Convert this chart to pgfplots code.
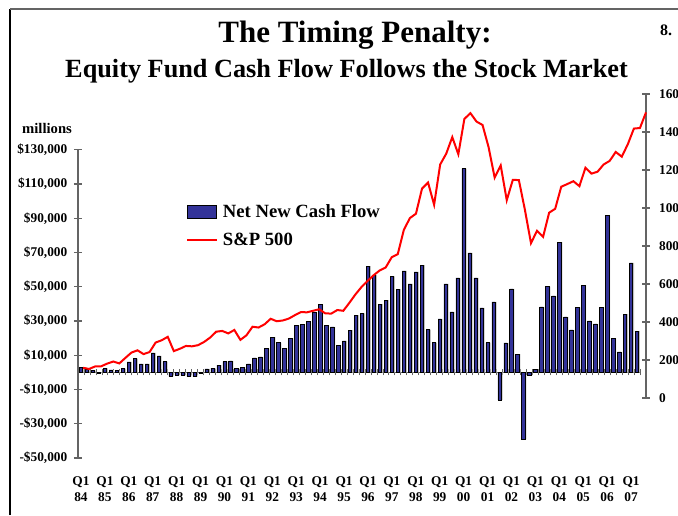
\documentclass[border=0pt]{standalone}
\usepackage{fontspec}
\setmainfont{Liberation Serif}
\usepackage{pgfplots}
\usepackage{pgfplotstable}
\pgfplotsset{compat=1.18}

\definecolor{barblue}{RGB}{51,51,153}
\definecolor{axisgray}{RGB}{100,100,100}

% net new cash flow to equity funds, millions of dollars, Q1 1984 = 0
\pgfplotstableread{
q flow
0 2700
1 1700
2 1000
3 -400
4 2300
5 1500
6 1000
7 2200
8 6100
9 8000
10 5000
11 5000
12 11400
13 9600
14 6300
15 -2300
16 -1700
17 -1700
18 -2300
19 -2500
20 -700
21 2000
22 2500
23 4200
24 6300
25 6700
26 2500
27 3000
28 5000
29 8500
30 9000
31 13800
32 20600
33 17300
34 14000
35 19800
36 27600
37 28100
38 29900
39 34900
40 39600
41 27600
42 26600
43 15900
44 18400
45 24600
46 33400
47 34400
48 62000
49 56800
50 39800
51 42200
52 56000
53 48600
54 59300
55 51700
56 58700
57 62600
58 25000
59 17400
60 31200
61 51700
62 35300
63 55200
64 119000
65 69800
66 55200
67 37700
68 17400
69 41200
70 -16000
71 17200
72 48800
73 10600
74 -39000
75 -1600
76 1900
77 38300
78 50000
79 44700
80 76000
81 32400
82 24800
83 37900
84 50900
85 30100
86 28300
87 38100
88 91800
89 19800
90 12000
91 34000
92 64000
93 24100
}\flowtable

% S&P 500 at quarter end
\pgfplotstableread{
q sp
0 159
1 153
2 166
3 167
4 181
5 192
6 182
7 211
8 239
9 251
10 231
11 242
12 292
13 304
14 322
15 247
16 259
17 274
18 272
19 278
20 295
21 318
22 349
23 353
24 340
25 358
26 306
27 330
28 375
29 371
30 388
31 417
32 404
33 408
34 418
35 436
36 452
37 451
38 459
39 467
40 446
41 444
42 463
43 459
44 501
45 545
46 584
47 616
48 646
49 671
50 687
51 741
52 757
53 885
54 947
55 970
56 1102
57 1134
58 1017
59 1229
60 1286
61 1373
62 1283
63 1469
64 1499
65 1455
66 1437
67 1320
68 1160
69 1224
70 1041
71 1148
72 1147
73 990
74 815
75 880
76 848
77 975
78 996
79 1112
80 1126
81 1141
82 1115
83 1212
84 1181
85 1191
86 1229
87 1248
88 1295
89 1270
90 1336
91 1418
92 1421
93 1503
}\sptable

\begin{document}
\begin{tikzpicture}
% slide frame
\draw[black, line width=1.2pt] (7.5pt,0pt) -- (7.5pt,379.5pt);
\draw[axisgray, line width=1.5pt] (7.5pt,379.5pt) -- (508.5pt,379.5pt);

\node[anchor=base, font=\bfseries\fontsize{23.25}{28}\selectfont] at (266.25pt,354pt) {The Timing Penalty:};
\node[anchor=base, font=\bfseries\fontsize{19.7}{24}\selectfont] at (259.9pt,327.75pt) {Equity Fund Cash Flow Follows the Stock Market};
\node[font=\bfseries\fontsize{12}{14}\selectfont] at (499.5pt,363.75pt) {8.};
\node[font=\bfseries\fontsize{11}{13}\selectfont] at (35.25pt,290.25pt) {millions};

\begin{axis}[
    at={(58.5pt,42.75pt)}, anchor=south west,
    scale only axis, width=421.5pt, height=231.2pt,
    xmin=-0.5, xmax=93.5, ymin=-50000, ymax=130000,
    axis x line*=middle, axis y line*=left,
    every inner x axis line/.append style={-},
    every outer y axis line/.append style={-},
    axis line style={axisgray, line width=0.8pt},
    tick align=center,
    scaled y ticks=false,
    xtick={0,4,...,92},
    xticklabels={{Q1\\84},{Q1\\85},{Q1\\86},{Q1\\87},{Q1\\88},{Q1\\89},{Q1\\90},{Q1\\91},
                 {Q1\\92},{Q1\\93},{Q1\\94},{Q1\\95},{Q1\\96},{Q1\\97},{Q1\\98},{Q1\\99},
                 {Q1\\00},{Q1\\01},{Q1\\02},{Q1\\03},{Q1\\04},{Q1\\05},{Q1\\06},{Q1\\07}},
    xticklabel style={align=center, yshift=-72pt, font=\bfseries\fontsize{10}{12}\selectfont},
    major x tick style={draw=none},
    minor xtick={-0.5,0.5,...,93.5},
    minor x tick style={axisgray, line width=0.6pt},
    minor tick length=4.5pt,
    ytick={-50000,-30000,...,130000},
    yticklabels={{-\$50,000},{-\$30,000},{-\$10,000},{\$10,000},{\$30,000},{\$50,000},{\$70,000},{\$90,000},{\$110,000},{\$130,000}},
    yticklabel style={xshift=-1.5pt, font=\bfseries\fontsize{10}{12}\selectfont},
    major y tick style={axisgray, line width=0.8pt},
    major tick length=6pt,
    legend cell align=left,
    legend style={at={(0.185,0.84)}, anchor=north west, draw=none, fill=none,
                  font=\bfseries\fontsize{14}{16}\selectfont, row sep=6pt},
]
\addlegendimage{legend image code/.code={\draw[fill=barblue, draw=black, line width=0.5pt] (0pt,-4.9pt) rectangle (21.75pt,4.9pt); \path[draw=none, fill=none] (0pt,0pt) -- (24.75pt,0pt);}}
\addlegendentry{Net New Cash Flow}
\addlegendimage{legend image code/.code={\draw[red, line width=1.5pt] (0pt,0pt) -- (22.5pt,0pt); \path[draw=none, fill=none] (0pt,0pt) -- (24.75pt,0pt);}}
\addlegendentry{S\&P 500}
\addplot[ybar, bar width=2.55pt, bar shift=1pt, fill=gray!50, draw=none, forget plot] table[x=q, y=flow] {\flowtable};
\addplot[ybar, bar width=2.55pt, fill=barblue, draw=black, line width=0.4pt, forget plot] table[x=q, y=flow] {\flowtable};
\end{axis}

\begin{axis}[
    at={(62.25pt,87.75pt)}, anchor=south west,
    scale only axis, width=422.25pt, height=228pt,
    xmin=0, xmax=93, ymin=0, ymax=1600,
    axis x line=none, axis y line*=right,
    every outer y axis line/.append style={-},
    axis line style={axisgray, line width=0.8pt},
    tick align=center, major tick length=6pt,
    ytick={0,200,...,1600},
    ytick style={axisgray, line width=0.8pt},
    /pgf/number format/assume math mode=true,
    /pgf/number format/1000 sep={},
    yticklabel style={xshift=3.3pt, font=\bfseries\fontsize{10}{12}\selectfont},
    clip=false,
]
\addplot[red, line width=1.5pt, mark=none] table[x=q, y=sp] {\sptable};
\end{axis}

\pgfresetboundingbox
\useasboundingbox (0pt,0pt) rectangle (508.5pt,386.25pt);
\end{tikzpicture}
\end{document}
